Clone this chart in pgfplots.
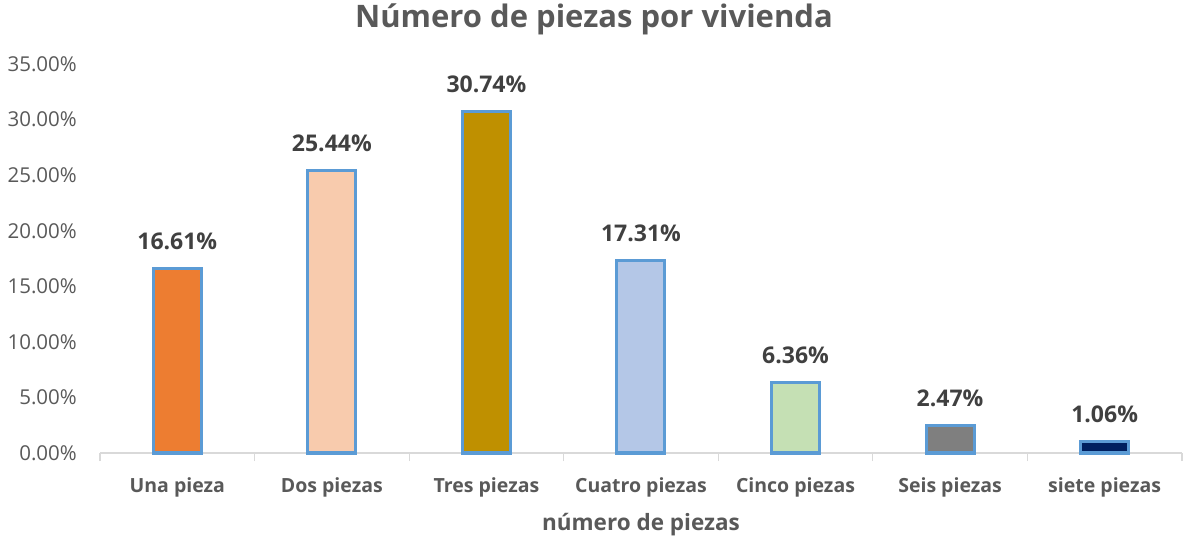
\documentclass[border=0pt]{standalone}
\usepackage{pgfplots}
\pgfplotsset{compat=1.18}
\usepackage{fontspec}
\setmainfont{Open Sans}
\definecolor{txt}{HTML}{595959}
\definecolor{lbl}{HTML}{404040}
\definecolor{edge}{HTML}{5B9BD5}
\definecolor{axl}{HTML}{D9D9D9}
\definecolor{c1}{HTML}{ED7D31}
\definecolor{c2}{HTML}{F8CBAD}
\definecolor{c3}{HTML}{BF9000}
\definecolor{c4}{HTML}{B4C7E7}
\definecolor{c5}{HTML}{C5E0B4}
\definecolor{c6}{HTML}{7F7F7F}
\definecolor{c7}{HTML}{002060}
\begin{document}
\begin{tikzpicture}
\useasboundingbox (0,0) rectangle (1185bp,542bp);
\begin{axis}[
  at={(100bp,89bp)}, anchor=south west,
  scale only axis, width=1082bp, height=389bp,
  xmin=-0.5, xmax=6.5, ymin=0, ymax=35,
  axis x line*=bottom, axis y line*=left,
  x axis line style={draw=axl, line width=1.2bp, -},
  y axis line style={draw=none},
  xtick={0,...,6},
  xticklabels={Una pieza,Dos piezas,Tres piezas,Cuatro piezas,Cinco piezas,Seis piezas,siete piezas},
  major x tick style={draw=none},
  minor xtick={-0.5,0.5,...,6.5},
  minor x tick style={draw=axl, line width=1.2bp},
  minor tick length=8bp, xtick align=outside,
  x tick label style={font=\fontsize{19.5bp}{23bp}\selectfont\bfseries, text=txt, anchor=base, inner sep=0pt, yshift=-35bp},
  ytick={0,5,...,35},
  yticklabel={\pgfmathprintnumber[fixed,fixed zerofill,precision=2]{\tick}\%},
  ytick style={draw=none},
  y tick label style={font=\fontsize{20.5bp}{24bp}\selectfont, text=txt, anchor=east, inner sep=0pt, xshift=-23bp},
  /pgf/number format/assume math mode=true,
  title={Número de piezas por vivienda},
  title style={font=\fontsize{31bp}{36bp}\selectfont\bfseries, text=txt, at={(0.5,1)}, anchor=base, inner sep=0pt, yshift=31bp, xshift=-47bp},
  xlabel={número de piezas},
  xlabel style={font=\fontsize{22.5bp}{27bp}\selectfont\bfseries, text=txt, at={(0.5,0)}, anchor=base, inner sep=0pt, yshift=-77bp},
  ybar, bar width=48bp, bar shift=0pt,
  nodes near coords={\pgfmathprintnumber[fixed,fixed zerofill,precision=2]{\pgfplotspointmeta}\%},
  nodes near coords style={font=\fontsize{23bp}{27bp}\selectfont\bfseries, text=lbl, anchor=base, inner sep=0pt, yshift=19bp},
  every axis plot/.append style={draw=edge, line width=3bp},
  clip=false,
]
\addplot[fill=c1] coordinates {(0,16.61)};
\addplot[fill=c2] coordinates {(1,25.44)};
\addplot[fill=c3] coordinates {(2,30.74)};
\addplot[fill=c4] coordinates {(3,17.31)};
\addplot[fill=c5] coordinates {(4,6.36)};
\addplot[fill=c6] coordinates {(5,2.47)};
\addplot[fill=c7] coordinates {(6,1.06)};
\end{axis}
\end{tikzpicture}
\end{document}
